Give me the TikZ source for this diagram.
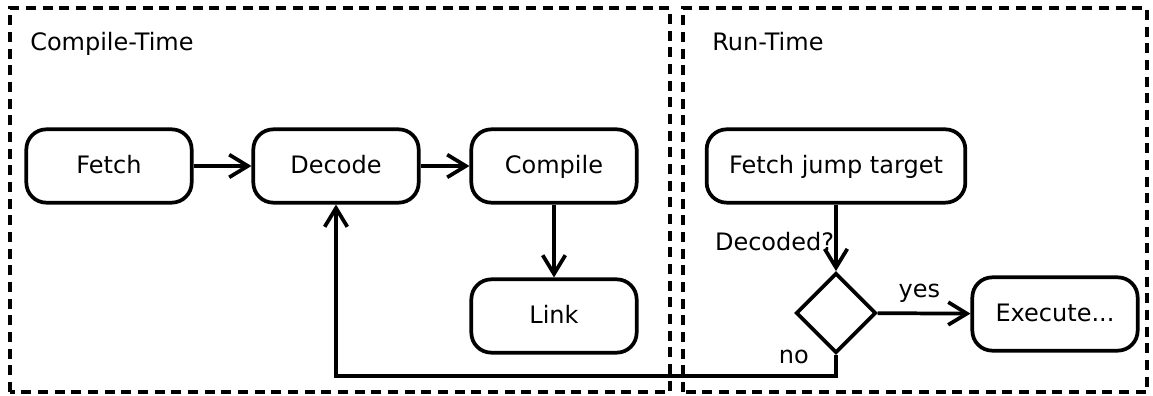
\documentclass[tikz,border=0pt]{standalone}
\usepackage{fontspec}
\setmainfont{DejaVu Sans}
\usepackage{tikz}
\usetikzlibrary{arrows.meta,shapes.geometric}

\begin{document}
\begin{tikzpicture}[x=0.75pt, y=0.75pt,
    block/.style={rectangle, rounded corners=15pt, draw, line width=2.8pt, minimum width=124pt, minimum height=55pt, text height=14pt, text depth=2pt, font=\fontsize{18}{22}\selectfont},
    decision/.style={diamond, draw, line width=2.8pt, aspect=1, minimum width=60pt, minimum height=60pt, inner sep=0pt},
    lbl/.style={inner sep=0pt, font=\fontsize{18}{22}\selectfont},
    flow/.style={line width=2.8pt, -{Straight Barb[length=14pt, width=17pt, line width=2.8pt]}},
    frame/.style={line width=3pt, dash pattern=on 7.5pt off 5pt}]

    \useasboundingbox (0,0) rectangle (1153,396);

    % Frames for the two phases
    \draw[frame] (10,4) rectangle (670,388);
    \draw[frame] (683,4) rectangle (1147,388);
    \node[lbl, anchor=base west] (ct) at (30,345) {Compile-Time};
    \node[lbl, anchor=base west] (rt) at (712,345) {Run-Time};

    % Blocks
    \node[block] (fetch) at (109,230) {Fetch};
    \node[block] (decode) at (336,230) {Decode};
    \node[block] (compile) at (554,230) {Compile};
    \node[block] (link) at (554,80) {Link};
    \node[block, minimum width=194pt] (jump) at (836,230) {Fetch jump target};
    \node[decision] (dec) at (836,83) {};
    \node[block] (exec) at (1055,82) {Execute...};
    \coordinate (back) at (836,20);

    % Connectors
    \draw[flow] (fetch) -- (decode);
    \draw[flow] (decode) -- (compile);
    \draw[flow] (compile) -- (link);
    \draw[flow] (jump) -- node[lbl, left=0pt, pos=0.55] {Decoded?} (dec);
    \draw[flow] (dec) -- node[lbl, above=7pt, pos=0.45] {yes} (exec);
    \draw[flow] (dec.south) -- node[lbl, pos=0.1, left=19pt] {no} (back) -| (decode.south);
\end{tikzpicture}
\end{document}
